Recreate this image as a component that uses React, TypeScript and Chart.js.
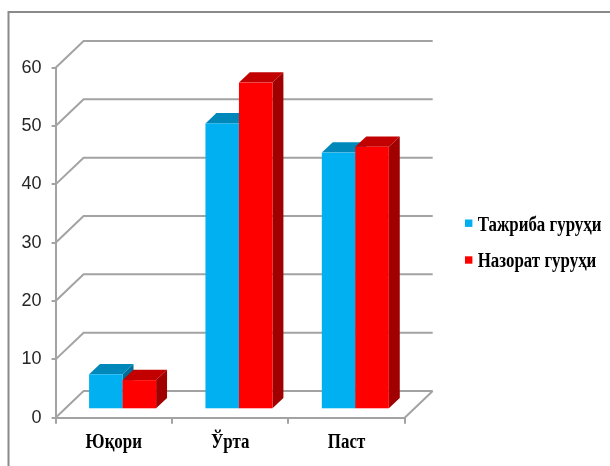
import React, { useEffect, useRef } from "react";
import { Chart, registerables } from "chart.js";

Chart.register(...registerables);

// ---- data ----
const categories = ["Юқори", "Ўрта", "Паст"];
const seriesLabels = ["Тажриба гуруҳи", "Назорат гуруҳи"];
const tajribaValues = [6, 49, 44];
const nazoratValues = [5, 56, 45];
const yTickValues = [0, 10, 20, 30, 40, 50, 60];

// ---- style ----
const faceColors = ["#00B0F0", "#FF0000"];
const topColors = ["#0088BB", "#C20000"];
const sideColors = ["#006E96", "#A00000"];
const GRID = "#a3a3a3";
const DEPTH_X = 28;
const DEPTH_Y = 26.7;
const BAR_FRONT = 0.315;
const BAR_BACK = 0.705;
const LABEL_FONT = '"Liberation Serif", "Times New Roman", serif';
const TEXT_SQUEEZE = 0.845;

function poly(ctx: CanvasRenderingContext2D, pts: number[][], color: string) {
  ctx.beginPath();
  ctx.moveTo(pts[0][0], pts[0][1]);
  for (let k = 1; k < pts.length; k++) ctx.lineTo(pts[k][0], pts[k][1]);
  ctx.closePath();
  ctx.fillStyle = color;
  ctx.fill();
}

function squeezedText(ctx: CanvasRenderingContext2D, text: string, x: number, y: number, align: CanvasTextAlign) {
  ctx.save();
  ctx.translate(x, y);
  ctx.scale(TEXT_SQUEEZE, 1);
  ctx.textAlign = align;
  ctx.fillText(text, 0, 0);
  ctx.restore();
}

const threeD = {
  id: "threeD",
  beforeDraw(chart: any) {
    const ctx = chart.ctx as CanvasRenderingContext2D;
    ctx.save();
    ctx.fillStyle = "#ffffff";
    ctx.fillRect(0, 0, chart.width, chart.height);
    ctx.strokeStyle = "#8a8a8a";
    ctx.lineWidth = 2;
    ctx.strokeRect(8.5, 12, chart.width + 40, chart.height + 40);
    ctx.restore();
  },
  beforeDatasetsDraw(chart: any) {
    const ctx = chart.ctx as CanvasRenderingContext2D;
    const { left, right, bottom } = chart.chartArea;
    const yScale = chart.scales.y;
    ctx.save();
    ctx.strokeStyle = GRID;
    ctx.lineWidth = 2;
    yTickValues.forEach((v) => {
      const yf = yScale.getPixelForValue(v);
      ctx.beginPath();
      ctx.moveTo(left, yf);
      ctx.lineTo(left + DEPTH_X, yf - DEPTH_Y);
      ctx.lineTo(right + DEPTH_X, yf - DEPTH_Y);
      ctx.stroke();
    });
    ctx.beginPath();
    ctx.moveTo(right, bottom);
    ctx.lineTo(right + DEPTH_X, bottom - DEPTH_Y);
    ctx.stroke();

    const ddx = (BAR_BACK - BAR_FRONT) * DEPTH_X;
    const ddy = (BAR_BACK - BAR_FRONT) * DEPTH_Y;
    for (let i = 0; i < categories.length; i++) {
      chart.data.datasets.forEach((_ds: any, d: number) => {
        const el = chart.getDatasetMeta(d).data[i];
        const { x, y, base, width } = el.getProps(["x", "y", "base", "width"], true);
        const x0 = x - width / 2 + BAR_FRONT * DEPTH_X;
        const x1 = x + width / 2 + BAR_FRONT * DEPTH_X;
        const yt = y - BAR_FRONT * DEPTH_Y;
        const yb = base - BAR_FRONT * DEPTH_Y;
        poly(ctx, [[x1, yt], [x1 + ddx, yt - ddy], [x1 + ddx, yb - ddy], [x1, yb]], sideColors[d]);
        poly(ctx, [[x0, yt], [x0 + ddx, yt - ddy], [x1 + ddx, yt - ddy], [x1, yt]], topColors[d]);
        ctx.fillStyle = faceColors[d];
        ctx.fillRect(x0, yt, x1 - x0, yb - yt);
      });
    }
    ctx.restore();
    return false;
  },
  afterDraw(chart: any) {
    const ctx = chart.ctx as CanvasRenderingContext2D;
    const xScale = chart.scales.x;
    ctx.save();
    ctx.font = `bold 20px ${LABEL_FONT}`;
    ctx.textBaseline = "alphabetic";
    ctx.fillStyle = "#000";
    // category labels
    const labelBase = chart.chartArea.bottom + 30;
    chart.data.labels.forEach((lab: string, i: number) => {
      squeezedText(ctx, lab, xScale.getPixelForTick(i), labelBase, "center");
    });
    // legend
    const lx = chart.chartArea.right + 60.3;
    chart.data.datasets.forEach((ds: any, i: number) => {
      const base = 230.5 + i * 36.8;
      ctx.fillStyle = faceColors[i];
      ctx.fillRect(lx, base - 11, 7.4, 7.4);
      ctx.fillStyle = "#000";
      squeezedText(ctx, ds.label, lx + 12.7, base, "left");
    });
    ctx.restore();
  },
};

export default function App() {
  const ref = useRef<HTMLCanvasElement>(null);
  useEffect(() => {
    if (!ref.current) return;
    const chart = new Chart(ref.current, {
      type: "bar",
      data: {
        labels: categories,
        datasets: [
          { label: seriesLabels[0], data: tajribaValues, backgroundColor: faceColors[0] },
          { label: seriesLabels[1], data: nazoratValues, backgroundColor: faceColors[1] },
        ],
      },
      options: {
        responsive: false,
        animation: false,
        devicePixelRatio: 1,
        layout: { padding: { left: 0, top: 67.7, right: 205.3, bottom: 0 } },
        datasets: { bar: { categoryPercentage: 0.576, barPercentage: 1.0 } },
        plugins: { legend: { display: false }, tooltip: { enabled: false } },
        scales: {
          x: {
            type: "category",
            offset: true,
            grid: { display: true, drawOnChartArea: false, offset: true, tickLength: 6, color: GRID, lineWidth: 2 },
            border: { display: true, color: GRID, width: 2 },
            ticks: { display: false },
            afterFit(s: any) {
              s.height = 48.3;
            },
          },
          y: {
            min: 0,
            max: 60,
            ticks: {
              stepSize: 10,
              padding: 10,
              font: { family: '"Liberation Sans", Arial, sans-serif', size: 18 },
              color: "#262626",
            },
            grid: { display: true, drawOnChartArea: false, tickLength: 4, color: GRID, lineWidth: 2 },
            border: { display: true, color: GRID, width: 2 },
            afterFit(s: any) {
              s.width = 55.6;
            },
          },
        },
      },
      plugins: [threeD],
    } as any);
    return () => chart.destroy();
  }, []);
  return (
    <div style={{ position: "fixed", left: 0, top: 0, width: 610, height: 466, overflow: "hidden", background: "#fff" }}>
      <canvas ref={ref} width={610} height={466} style={{ display: "block" }} />
    </div>
  );
}
